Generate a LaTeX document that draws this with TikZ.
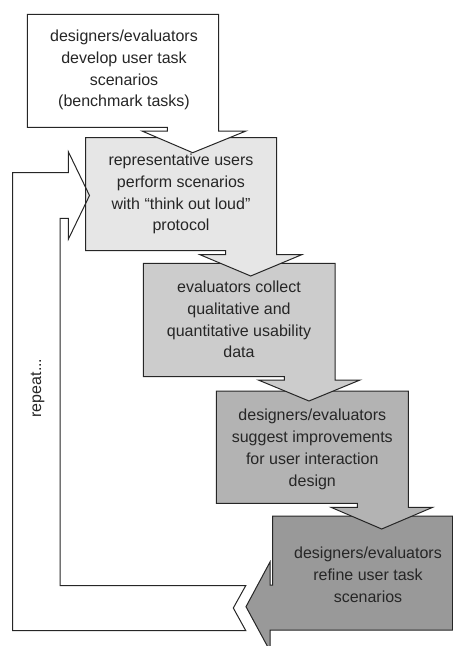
\documentclass[tikz,border=0pt]{standalone}
\usepackage{fontspec}
\setmainfont{Liberation Sans}
\begin{document}
\begin{tikzpicture}[x=1pt,y=-1pt,
  outline/.style={draw=black!85, line width=1pt, line join=miter},
  label/.style={align=center, inner sep=0pt, font=\fontsize{16}{21.8}\selectfont, text=black!85}]
\definecolor{stepA}{HTML}{FFFFFF}
\definecolor{stepB}{HTML}{E6E6E6}
\definecolor{stepC}{HTML}{CCCCCC}
\definecolor{stepD}{HTML}{B3B3B3}
\definecolor{stepE}{HTML}{999999}
\useasboundingbox (0,0) rectangle (453,646);
\clip (0,0) rectangle (453,646);

% last step: callout pointing left
\fill[stepE] (272.7,516) -- (452.5,516) -- (452.5,630) -- (270,630) -- (270,651)
  -- (246,606.7) -- (270,562) -- (270,585) -- (272.7,585) -- cycle;
\draw[outline] (272.7,516) -- (452.5,516) -- (452.5,630) -- (270,630) -- (270,651)
  -- (246,606.7) -- (270,562) -- (270,585) -- (272.7,585) -- cycle;

% callouts pointing down, drawn from the bottom one upwards
\draw[outline, fill=stepD] (216.3,391) -- (408.3,391) -- (408.3,507.3) -- (432.7,507.3)
  -- (381.7,529) -- (331,507.3) -- (357.3,507.3) -- (357.3,503.3) -- (216.3,503.3) -- cycle;
\draw[outline, fill=stepC] (143.3,263.3) -- (335,263.3) -- (335,380) -- (360,380)
  -- (309,401) -- (258.3,380) -- (284.3,380) -- (284.3,376.7) -- (143.3,376.7) -- cycle;
\draw[outline, fill=stepB] (85.7,137.7) -- (276.7,137.7) -- (276.7,254.7) -- (301.7,254.7)
  -- (250.7,276) -- (200,254.7) -- (225.7,254.7) -- (225.7,250.7) -- (85.7,250.7) -- cycle;
\draw[outline, fill=stepA] (27.3,14.3) -- (218.7,14.3) -- (218.7,131) -- (246,131)
  -- (192.7,152.7) -- (142,131) -- (167.3,131) -- (167.3,127.3) -- (27.3,127.3) -- cycle;

% feedback loop arrow
\draw[outline] (68.3,172.7) -- (12.7,172.7) -- (12.7,630.5) -- (245.7,630.5)
  -- (233.3,608) -- (245.7,585.7) -- (60,585.7) -- (60,218.3) -- (68.3,218.3)
  -- (68.3,239.3) -- (89.5,195.5) -- (68.3,151.7) -- cycle;

% texts
\node[label] (t1) at (124,70) {designers/evaluators\\develop user task\\scenarios\\(benchmark tasks)};
\node[label] (t2) at (181,194) {representative users\\perform scenarios\\with “think out loud”\\protocol};
\node[label] (t3) at (239,319.5) {evaluators collect\\qualitative and\\quantitative usability\\data};
\node[label] (t4) at (312.3,449.5) {designers/evaluators\\suggest improvements\\for user interaction\\design};
\node[label] (t5) at (368,575) {designers/evaluators\\refine user task\\scenarios};
\node[label, rotate=90] (rep) at (37.5,388) {repeat...};
\end{tikzpicture}
\end{document}
